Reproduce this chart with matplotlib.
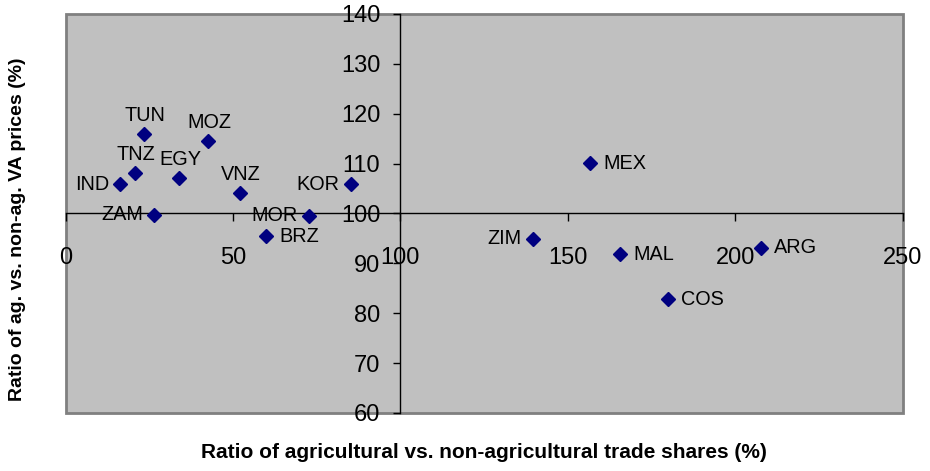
import matplotlib
matplotlib.use("Agg")
import matplotlib.pyplot as plt
from matplotlib.patches import Rectangle

plt.rcParams["font.family"] = ["Liberation Sans", "DejaVu Sans"]

# Country codes with trade-share ratio (x) and VA price ratio (y), in %
countries = ["TUN", "MOZ", "TNZ", "EGY", "IND", "VNZ", "KOR", "ZAM",
             "MOR", "BRZ", "MEX", "ZIM", "MAL", "COS", "ARG"]
trade_ratio = [23.5, 42.7, 20.7, 34.0, 16.3, 52.1, 85.2, 26.4,
               72.7, 59.9, 156.7, 139.5, 165.6, 179.9, 207.6]
price_ratio = [115.9, 114.6, 108.2, 107.2, 105.9, 104.1, 105.9, 99.7,
               99.5, 95.4, 110.1, 94.9, 91.8, 82.8, 93.1]

x_ticks = [0, 50, 100, 150, 200, 250]
y_ticks = [60, 70, 80, 90, 100, 110, 120, 130, 140]

# Where each country's label sits relative to its marker
label_side = {
    "TUN": "above", "MOZ": "above", "TNZ": "above", "EGY": "above",
    "VNZ": "above", "IND": "left", "ZAM": "left", "MOR": "left",
    "KOR": "left", "ZIM": "left", "BRZ": "right", "MEX": "right",
    "MAL": "right", "COS": "right", "ARG": "right",
}

fig = plt.figure(figsize=(9.30, 4.71), dpi=100)
ax = fig.add_axes([65.5 / 930, 1 - 413 / 471, 837 / 930, 399 / 471])
ax.set_facecolor("#C0C0C0")
ax.set_xlim(0, 250)
ax.set_ylim(60, 140)

# Axes cross at (100, 100)
for side in ("top", "right"):
    ax.spines[side].set_visible(False)
ax.spines["left"].set_position(("data", 100))
ax.spines["bottom"].set_position(("data", 100))
for side in ("left", "bottom"):
    ax.spines[side].set_linewidth(1.0)
    ax.spines[side].set_color("black")
    ax.spines[side].set_zorder(2)

ax.set_xticks(x_ticks)
ax.set_yticks(y_ticks)
ax.tick_params(axis="both", direction="out", length=5.4, width=1.0,
               labelsize=17, colors="black")
ax.tick_params(axis="x", pad=19)
ax.tick_params(axis="y", pad=9)

# Plot-area frame
ax.add_patch(Rectangle((0, 0), 1, 1, transform=ax.transAxes, fill=False,
                       edgecolor="#808080", linewidth=2.0, zorder=1,
                       clip_on=False))

ax.plot(trade_ratio, price_ratio, linestyle="none", marker="D",
        markersize=7.1, color="#000080", zorder=3, clip_on=False)

px = 72 / 100.0
for name, xv, yv in zip(countries, trade_ratio, price_ratio):
    side = label_side[name]
    if side == "above":
        off, ha = (1 * px, 18.5 * px), "center"
    elif side == "left":
        off, ha = (-11 * px, 0), "right"
    else:
        off, ha = (13 * px, 0), "left"
    ax.annotate(name, (xv, yv), xytext=off, textcoords="offset points",
                ha=ha, va="center", fontsize=14.3, color="black", zorder=4)

fig.text(484 / 930, 1 - 453 / 471,
         "Ratio of agricultural vs. non-agricultural trade shares (%)",
         ha="center", va="center", fontsize=15, fontweight="bold")
fig.text(18 / 930, 1 - 229 / 471, "Ratio of ag. vs. non-ag. VA prices (%)",
         ha="center", va="center", rotation=90, fontsize=14,
         fontweight="bold")

fig.savefig("out.png", dpi=100, facecolor="white")
